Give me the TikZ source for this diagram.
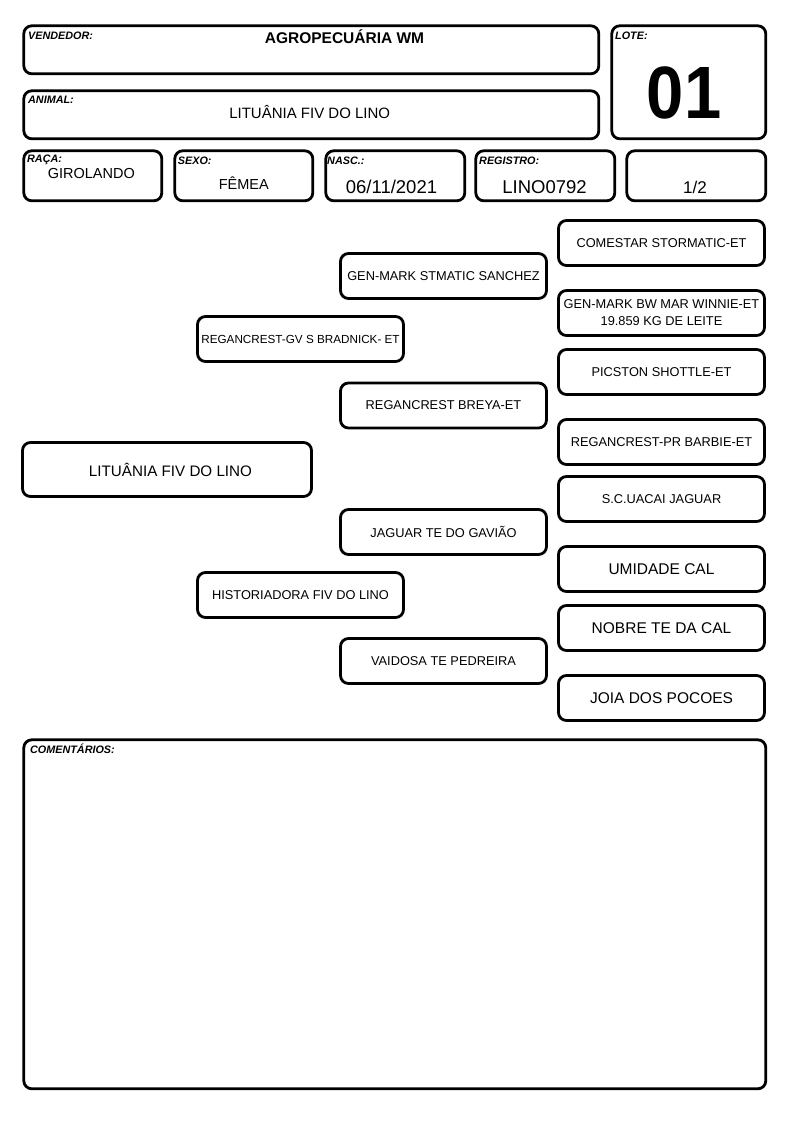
\documentclass[tikz,border=0pt]{standalone}
\usepackage{fontspec}
\setmainfont{Liberation Sans}
\begin{document}
\begin{tikzpicture}[x=1pt,y=-1pt,
  box/.style={draw, line width=2.8pt, rounded corners=8pt, inner sep=0pt},
  pbox/.style={box, minimum width=206pt, minimum height=45pt, align=center, font=\fontsize{12.8}{16}\selectfont},
  pboxL/.style={pbox, font=\fontsize{15.5}{18}\selectfont},
  lbl/.style={anchor=base west, inner sep=0pt, font=\fontsize{10.8}{12}\selectfont\bfseries\itshape},
  val/.style={anchor=base, inner sep=0pt, font=\fontsize{14.5}{17}\selectfont},
  bigval/.style={anchor=base, inner sep=0pt, font=\fontsize{18.5}{21}\selectfont}]
\useasboundingbox[fill=white] (0,0) rectangle (794,1123);
% header boxes
\node[box, anchor=north west, minimum width=575pt, minimum height=48pt] (vendor) at (22.4,24.4) {};
\node[box, anchor=north west, minimum width=575pt, minimum height=48pt] (animal) at (22.4,89.4) {};
\node[box, anchor=north west, minimum width=154pt, minimum height=113pt] (lote) at (610.4,24.4) {};
\node[box, anchor=north west, minimum width=138pt, minimum height=50pt] (raca) at (22.4,149.4) {};
\node[box, anchor=north west, minimum width=138pt, minimum height=50pt] (sexo) at (173.4,149.4) {};
\node[box, anchor=north west, minimum width=139pt, minimum height=50pt] (nasc) at (324.4,149.4) {};
\node[box, anchor=north west, minimum width=139pt, minimum height=50pt] (registro) at (474.4,149.4) {};
\node[box, anchor=north west, minimum width=139pt, minimum height=50pt] (frac) at (625.4,149.4) {};
\node[box, anchor=north west, minimum width=742pt, minimum height=349pt] (coments) at (22.4,738.4) {};
% header texts
\node[lbl] (lvend) at (28,39.3) {VENDEDOR:};
\node[anchor=base, inner sep=0pt, font=\fontsize{15.5}{18}\selectfont\bfseries] (tvend) at (344.5,43.3) {AGROPECUÁRIA WM};
\node[lbl] (lanim) at (28,103.2) {ANIMAL:};
\node[val, font=\fontsize{15}{18}\selectfont] (tanim) at (309.7,119) {LITUÂNIA FIV DO LINO};
\node[lbl] (llote) at (615,39.3) {LOTE:};
\node[anchor=base, inner sep=0pt, font=\fontsize{72}{72}\selectfont\bfseries] (tlote) at (684,119) {\scalebox{0.93}[1.03]{01}};
\node[lbl] (lraca) at (27,162.7) {RAÇA:};
\node[val] (traca) at (91.3,178.3) {GIROLANDO};
\node[lbl] (lsexo) at (177.7,164.3) {SEXO:};
\node[val] (tsexo) at (243.8,189.3) {FÊMEA};
\node[lbl] (lnasc) at (327,164.3) {NASC.:};
\node[bigval] (tnasc) at (391.5,193.3) {06/11/2021};
\node[lbl] (lreg) at (479,164.3) {REGISTRO:};
\node[bigval] (treg) at (544.5,193.3) {LINO0792};
\node[val, font=\fontsize{17}{20}\selectfont] (tfrac) at (695,193.3) {1/2};
\node[lbl] (lcom) at (30,753.3) {COMENTÁRIOS:};
% pedigree
\node[box, minimum width=289pt, minimum height=54pt, font=\fontsize{15.2}{18}\selectfont] (main) at (167,469.5) {\hspace*{7pt}LITUÂNIA FIV DO LINO};
\node[pbox, font=\fontsize{11.7}{14}\selectfont] (sire) at (300.5,339) {REGANCREST-GV S BRADNICK- ET};
\node[pbox] (dam) at (300.5,595) {HISTORIADORA FIV DO LINO};
\node[pbox] (ss) at (443.5,276) {GEN-MARK STMATIC SANCHEZ};
\node[pbox] (sd) at (443.5,405.5) {REGANCREST BREYA-ET};
\node[pbox] (ds) at (443.5,532) {JAGUAR TE DO GAVIÃO};
\node[pbox] (dd) at (443.5,661) {VAIDOSA TE PEDREIRA};
\node[pbox] (sss) at (661.5,243) {COMESTAR STORMATIC-ET};
\node[pbox, font=\fontsize{12.8}{17}\selectfont] (ssd) at (661.5,313) {GEN-MARK BW MAR WINNIE-ET\\19.859 KG DE LEITE};
\node[pbox] (sds) at (661.5,372) {PICSTON SHOTTLE-ET};
\node[pbox] (sdd) at (661.5,442) {REGANCREST-PR BARBIE-ET};
\node[pbox] (dss) at (661.5,499) {S.C.UACAI JAGUAR};
\node[pboxL] (dsd) at (661.5,569) {UMIDADE CAL};
\node[pboxL] (dds) at (661.5,628) {NOBRE TE DA CAL};
\node[pboxL] (ddd) at (661.5,698) {JOIA DOS POCOES};
\end{tikzpicture}
\end{document}
